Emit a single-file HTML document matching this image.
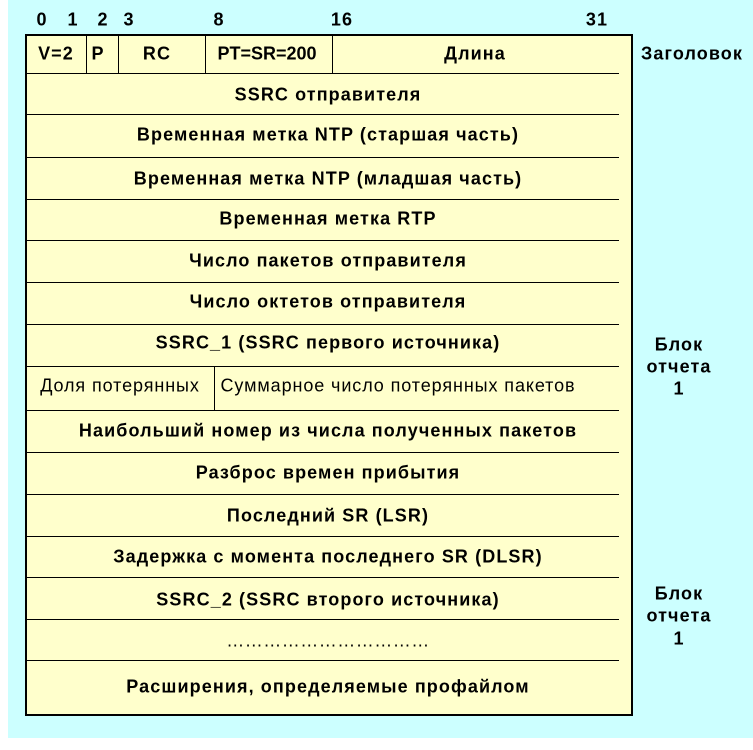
<!DOCTYPE html>
<html><head><meta charset="utf-8"><style>
body{margin:0;width:753px;height:750px;background:#fff;position:relative;overflow:hidden;font-family:"Liberation Sans",Arial,sans-serif;font-weight:bold;font-size:18px;letter-spacing:1.1px;color:#000}
.bg{position:absolute;left:8px;top:0;width:745px;height:738px;background:#ccffff}
.box{position:absolute;left:25px;top:34px;width:604px;height:678px;border:2px solid #000;background:#ffffcc}
.t{position:absolute;white-space:nowrap;transform:translate(-50%,-50%)}
.h{position:absolute;height:1px;background:#000;left:27px;width:592px}
.v{position:absolute;width:1px;background:#000}
</style></head><body>
<div class="bg"></div>
<div class="box"></div>
<div class="t" style="left:42px;top:20px">0</div>
<div class="t" style="left:73px;top:20px">1</div>
<div class="t" style="left:103px;top:20px">2</div>
<div class="t" style="left:129px;top:20px">3</div>
<div class="t" style="left:219px;top:20px">8</div>
<div class="t" style="left:342px;top:20px">16</div>
<div class="t" style="left:597px;top:20px">31</div>
<div class="v" style="left:86px;top:36px;height:37px"></div>
<div class="v" style="left:118px;top:36px;height:37px"></div>
<div class="v" style="left:205px;top:36px;height:37px"></div>
<div class="v" style="left:332px;top:36px;height:37px"></div>
<div class="v" style="left:214px;top:366px;height:44px"></div>
<div class="h" style="top:73px"></div>
<div class="h" style="top:114px"></div>
<div class="h" style="top:157px"></div>
<div class="h" style="top:199px"></div>
<div class="h" style="top:240px"></div>
<div class="h" style="top:282px"></div>
<div class="h" style="top:324px"></div>
<div class="h" style="top:366px"></div>
<div class="h" style="top:410px"></div>
<div class="h" style="top:452px"></div>
<div class="h" style="top:494px"></div>
<div class="h" style="top:536px"></div>
<div class="h" style="top:577px"></div>
<div class="h" style="top:619px"></div>
<div class="h" style="top:660px"></div>
<div class="t" style="left:56px;top:54px">V=2</div>
<div class="t" style="left:98px;top:54px">P</div>
<div class="t" style="left:157px;top:54px">RC</div>
<div class="t" style="left:267px;top:54px;letter-spacing:0">PT=SR=200</div>
<div class="t" style="left:475px;top:54px">Длина</div>
<div class="t" style="left:328px;top:95px">SSRC отправителя</div>
<div class="t" style="left:328px;top:135px">Временная метка NTP (старшая часть)</div>
<div class="t" style="left:328px;top:179px">Временная метка NTP (младшая часть)</div>
<div class="t" style="left:328px;top:219px">Временная метка RTP</div>
<div class="t" style="left:328px;top:261px">Число пакетов отправителя</div>
<div class="t" style="left:328px;top:302px">Число октетов отправителя</div>
<div class="t" style="left:328px;top:343px">SSRC_1 (SSRC первого источника)</div>
<div class="t" style="left:120px;top:386px;font-weight:normal;letter-spacing:0.9px">Доля потерянных</div>
<div class="t" style="left:398px;top:386px;font-weight:normal;letter-spacing:0.9px">Суммарное число потерянных пакетов</div>
<div class="t" style="left:328px;top:431px">Наибольший номер из числа полученных пакетов</div>
<div class="t" style="left:328px;top:473px">Разброс времен прибытия</div>
<div class="t" style="left:328px;top:516px">Последний SR (LSR)</div>
<div class="t" style="left:328px;top:557px">Задержка с момента последнего SR (DLSR)</div>
<div class="t" style="left:328px;top:600px">SSRC_2 (SSRC второго источника)</div>
<div class="t" style="left:328px;top:641px;font-weight:normal;letter-spacing:0.5px">……………………………</div>
<div class="t" style="left:328px;top:687px">Расширения, определяемые профайлом</div>
<div class="t" style="left:692px;top:54px">Заголовок</div>
<div class="t" style="left:679px;top:345px">Блок</div>
<div class="t" style="left:679px;top:367px">отчета</div>
<div class="t" style="left:679px;top:389px">1</div>
<div class="t" style="left:679px;top:594px">Блок</div>
<div class="t" style="left:679px;top:616px">отчета</div>
<div class="t" style="left:679px;top:639px">1</div>
</body></html>
